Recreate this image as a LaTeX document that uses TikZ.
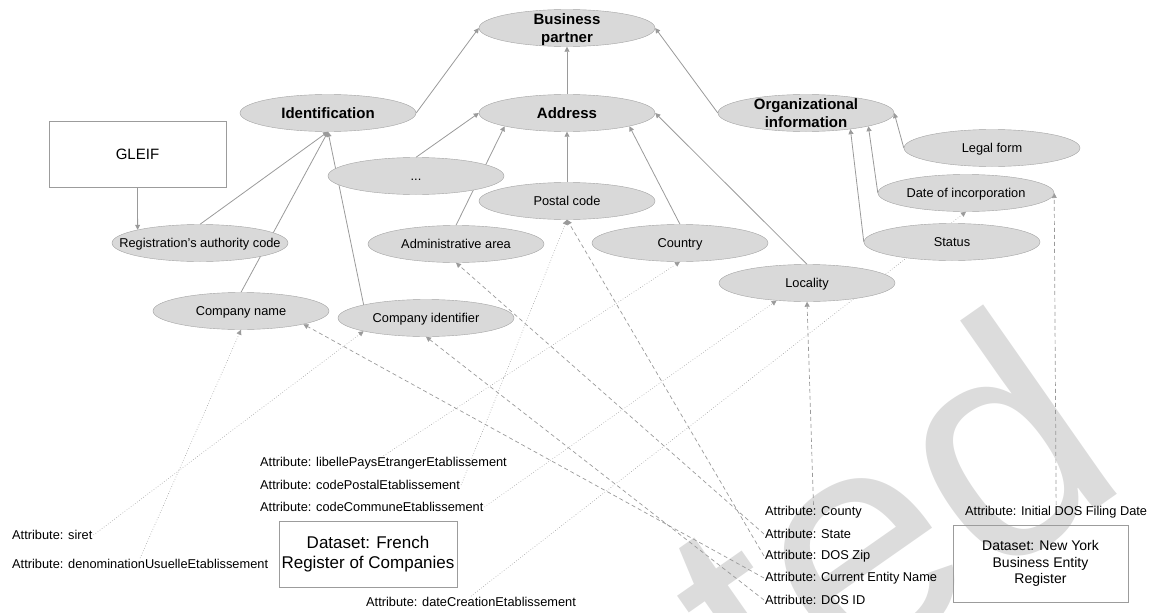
\documentclass[tikz,border=0pt]{standalone}
\usepackage{fontspec}
\setmainfont{Liberation Sans}
\usetikzlibrary{shapes.geometric,arrows.meta}

\definecolor{linegray}{HTML}{9A9A9A}
\definecolor{ellfill}{HTML}{D9D9D9}
\definecolor{ellline}{HTML}{A3A3A3}
\definecolor{boxgray}{HTML}{9C9C9C}
\definecolor{markgray}{HTML}{DCDCDC}

\pgfdeclarelayer{background}
\pgfsetlayers{background,main}

% labels take no room, so every ellipse keeps the same size
\newcommand{\lbl}[1]{\raisebox{-.36em}[0pt][0pt]{\makebox[0pt]{#1}}}
\newcommand{\lbll}[2]{\raisebox{-.37em}[0pt][0pt]{\makebox[0pt]{\begin{tabular}{@{}c@{}}#1\\#2\end{tabular}}}}

\tikzset{
  concept/.style={ellipse, draw=ellline, fill=ellfill, minimum width=176, minimum height=37, inner sep=0pt, font=\fontsize{12.8}{15}\selectfont},
  topconcept/.style={concept, font=\fontsize{15}{18}\selectfont\bfseries},
  source/.style={draw=boxgray, inner sep=0pt, align=center},
  attr/.style={anchor=west, inner sep=1pt, font=\fontsize{12.8}{15}\selectfont},
  link/.style={draw=linegray, line width=0.8pt, -{Triangle[width=5pt,length=5pt]}},
  frlink/.style={link, line width=0.6pt, dotted},
  nylink/.style={link, line width=0.7pt, dash pattern=on 4pt off 3pt}
}

\begin{document}
\begin{tikzpicture}[x=1pt, y=-1pt]
\useasboundingbox (0,0) rectangle (1149,613);

% model
\node[topconcept] (bp) at (567,28) {\lbll{Business}{partner}};
\node[topconcept] (ident) at (328,113) {\lbl{Identification}};
\node[topconcept] (addr) at (567,113) {\lbl{Address}};
\node[topconcept] (org) at (806,113) {\lbll{Organizational}{information}};

\node[source, minimum width=177, minimum height=66, font=\fontsize{15}{18}\selectfont] (gleif) at (137.5,154) {GLEIF};
\node[concept] (reg) at (200,243) {\lbl{Registration's authority code}};
\node[concept] (cname) at (241,311) {\lbl{Company name}};
\node[concept] (cid) at (426,318) {\lbl{Company identifier}};

\node[concept] (dots) at (416,176) {\lbl{...}};
\node[concept] (pc) at (567,201) {\lbl{Postal code}};
\node[concept] (admin) at (456,244) {\lbl{Administrative area}};
\node[concept] (country) at (680,243) {\lbl{Country}};
\node[concept] (loc) at (807,283) {\lbl{Locality}};

\node[concept] (legal) at (992,148) {\lbl{Legal form}};
\node[concept] (doi) at (966,193) {\lbl{Date of incorporation}};
\node[concept] (status) at (952,242) {\lbl{Status}};

% french register
\node[attr] (siret) at (11,535) {Attribute: siret};
\node[attr] (denom) at (11,564) {Attribute: denominationUsuelleEtablissement};
\node[attr] (libelle) at (259,463) {Attribute: libellePaysEtrangerEtablissement};
\node[attr] (postal) at (259,485) {Attribute: codePostalEtablissement};
\node[attr] (commune) at (259,507) {Attribute: codeCommuneEtablissement};
\node[attr] (creation) at (365,602) {Attribute: dateCreationEtablissement};
\node[source, minimum width=178, minimum height=66, font=\fontsize{17}{20}\selectfont] (french) at (368,554) {Dataset: French\\Register of Companies};

% new york register
\node[attr] (county) at (764,512) {Attribute: County};
\node[attr] (state) at (764,534) {Attribute: State};
\node[attr] (zip) at (764,556) {Attribute: DOS Zip};
\node[attr] (entity) at (764,578) {Attribute: Current Entity Name};
\node[attr] (dosid) at (764,600) {Attribute: DOS ID};
\node[attr] (filing) at (964,512) {Attribute: Initial DOS Filing Date};
\node[source, minimum width=175, minimum height=77, font=\fontsize{14}{16.5}\selectfont] (nyreg) at (1040.5,563.5) {Dataset: New York\\Business Entity\\Register};

\begin{pgfonlayer}{background}
  \begin{scope}
    \clip (0,0) rectangle (1149,613);
    \node[text=markgray, font=\fontsize{320}{320}\selectfont, rotate=35, anchor=base east, inner sep=0pt] (stamp) at (1135,482) {Accepted};
  \end{scope}

  \draw[link] (ident.east) -- (bp.west);
  \draw[link] (addr.north) -- (bp.south);
  \draw[link] (org.west) -- (bp.east);
  \draw[link] (gleif.south) -- (reg.north west);
  \draw[link] (reg.north) -- (ident.south);
  \draw[link] (cname.north) -- (ident.south);
  \draw[link] (cid.north west) -- (ident.south);
  \draw[link] (dots.north) -- (addr.west);
  \draw[link] (admin.north) -- (addr.south west);
  \draw[link] (pc.north) -- (addr.south);
  \draw[link] (country.north) -- (addr.south east);
  \draw[link] (loc.north) -- (addr.east);
  \draw[link] (legal.west) -- (org.east);
  \draw[link] (doi.west) -- (org.south east);
  \draw[link] (status.west) -- (org.-20);

  \draw[frlink] (siret.east) -- (cid.south west);
  \draw[frlink] (denom.north) -- (cname.south);
  \draw[frlink] (libelle.north) -- (country.south);
  \draw[frlink] (postal.east) -- (pc.south);
  \draw[frlink] (commune.east) -- (loc.-150);
  \draw[frlink] (creation.north) -- (doi.south);

  \draw[nylink] (county.north) -- (loc.south);
  \draw[nylink] (filing.north) -- (doi.east);
  \draw[nylink] (state.west) -- (admin.south);
  \draw[nylink] (zip.west) -- (pc.south);
  \draw[nylink] (entity.west) -- (cname.south east);
  \draw[nylink] (dosid.west) -- (cid.south);
\end{pgfonlayer}
\end{tikzpicture}
\end{document}
